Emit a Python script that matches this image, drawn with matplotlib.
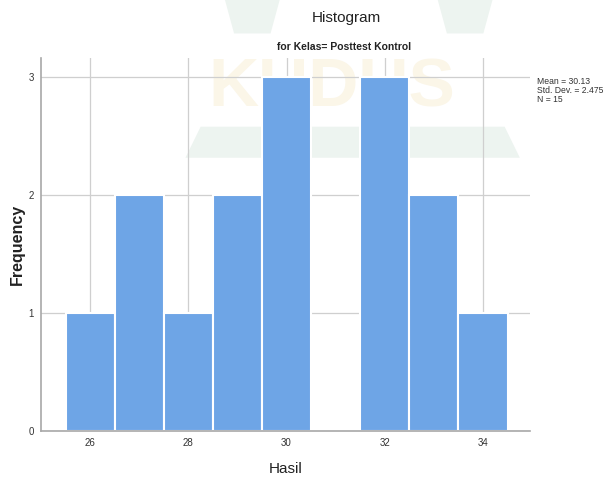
import matplotlib
matplotlib.use("Agg")
import matplotlib.pyplot as plt
from matplotlib.patches import Polygon

# Score values (Hasil) and their frequencies
scores = [26, 27, 28, 29, 30, 31, 32, 33, 34]
frequency = [1, 2, 1, 2, 3, 0, 3, 2, 1]
x_ticks = [26, 28, 30, 32, 34]
y_ticks = [0, 1, 2, 3]
stats_lines = ["Mean = 30.13", "Std. Dev. = 2.475", "N = 15"]

plt.rcParams["font.family"] = ["Liberation Sans", "DejaVu Sans"]

fig = plt.figure(figsize=(6.08, 4.78), dpi=100)

# faint background watermark, kept beneath the axes
fig.text(0.545, 0.815, "KUDUS", fontsize=50, fontweight="bold", color="#fbf6e8",
         ha="center", va="center", zorder=-2)
band = Polygon([[0.33, 0.735], [0.83, 0.735], [0.855, 0.67], [0.305, 0.67]],
               closed=True, transform=fig.transFigure, facecolor="#edf4f0",
               edgecolor="none", zorder=-2)
fig.patches.append(band)
for x0 in (0.37, 0.72):
    fig.patches.append(Polygon([[x0, 1.0], [x0 + 0.09, 1.0], [x0 + 0.075, 0.93], [x0 + 0.015, 0.93]],
                               closed=True, transform=fig.transFigure,
                               facecolor="#edf4f0", edgecolor="none", zorder=-2))

ax = fig.add_axes([0.0674, 0.0983, 0.8046, 0.7807])
ax.set_zorder(1)
ax.set_facecolor("none")

ax.bar(scores, frequency, width=1.0, color="#6ea5e6", edgecolor="white",
       linewidth=1.5, zorder=3)

ax.set_xlim(25.0, 34.96)
ax.set_ylim(0, 3.16)
ax.set_xticks(x_ticks)
ax.set_yticks(y_ticks)
ax.tick_params(length=0, labelsize=7, colors="#333333", pad=5)
ax.grid(True, color="#cfcfcf", linewidth=0.9, zorder=0)

for side in ("top", "right"):
    ax.spines[side].set_visible(False)
for side in ("left", "bottom"):
    ax.spines[side].set_color("#a8a8a8")
    ax.spines[side].set_linewidth(1.2)
    ax.spines[side].set_zorder(4)

ax.set_xlabel("Hasil", fontsize=11, labelpad=10, color="#222222")
ax.set_ylabel("Frequency", fontsize=11.5, fontweight="bold", labelpad=3, color="#222222")

fig.text(0.57, 0.962, "Histogram", fontsize=11, ha="center", va="center", color="#222222")
fig.text(0.566, 0.902, "for Kelas= Posttest Kontrol", fontsize=7.5, fontweight="bold",
         ha="center", va="center", color="#222222")

fig.text(0.884, 0.838, "\n".join(stats_lines), fontsize=6.2, ha="left", va="top",
         color="#333333", linespacing=1.0)

fig.savefig("out.png", dpi=100)
